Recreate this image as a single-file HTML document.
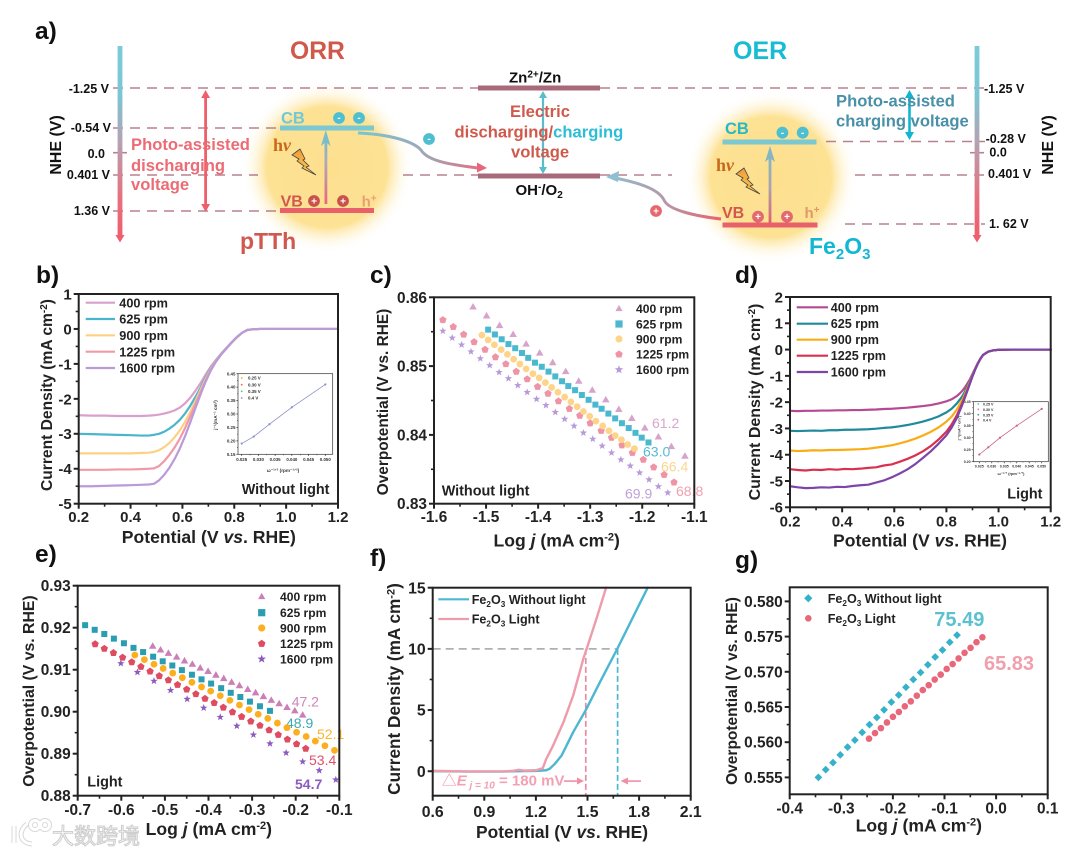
<!DOCTYPE html>
<html lang="en">
<head>
<meta charset="utf-8">
<title>Photo-assisted ORR and OER figure</title>
<style>
html,body{margin:0;padding:0;background:#fff;}
svg{display:block;filter:blur(.3px);}
text{font-family:"Liberation Sans","Noto Sans CJK SC",sans-serif;}
.b{font-weight:bold;}
.sci{font-family:"Liberation Serif",serif;font-weight:bold;}
</style>
</head>
<body>
<svg id="figure" xmlns="http://www.w3.org/2000/svg" width="1080" height="853" viewBox="0 0 1080 853">
<defs>
<linearGradient id="axisGrad" x1="0" y1="0" x2="0" y2="1"><stop offset="0" stop-color="#7bcbd8"/><stop offset=".25" stop-color="#7bc6d4"/><stop offset=".5" stop-color="#b3a3b3"/><stop offset=".8" stop-color="#e86f7e"/><stop offset="1" stop-color="#ee5f6e"/></linearGradient>
<linearGradient id="upGrad" x1="0" y1="1" x2="0" y2="0"><stop offset="0" stop-color="#e8697a"/><stop offset=".6" stop-color="#b0a8b8"/><stop offset="1" stop-color="#70c0d0"/></linearGradient>
<linearGradient id="upGrad2" x1="0" y1="1" x2="0" y2="0"><stop offset="0" stop-color="#e0606e"/><stop offset=".5" stop-color="#a8a4b0"/><stop offset="1" stop-color="#80b8c8"/></linearGradient>
<linearGradient id="curveL" gradientUnits="userSpaceOnUse" x1="358" y1="0" x2="486" y2="0"><stop offset="0" stop-color="#77c6d3"/><stop offset=".5" stop-color="#9da9b8"/><stop offset="1" stop-color="#e86a7c"/></linearGradient>
<linearGradient id="curveR" gradientUnits="userSpaceOnUse" x1="721" y1="0" x2="607" y2="0"><stop offset="0" stop-color="#e9616e"/><stop offset=".5" stop-color="#b39aaa"/><stop offset="1" stop-color="#8fc0cf"/></linearGradient>
<radialGradient id="glow"><stop offset="0" stop-color="#fddf8e"/><stop offset=".7" stop-color="#fde294"/><stop offset="1" stop-color="#fff" stop-opacity="0"/></radialGradient>
<linearGradient id="bolt" x1="0" y1="0" x2="0" y2="1"><stop offset="0" stop-color="#f29a3a"/><stop offset="1" stop-color="#fad04e"/></linearGradient>
</defs>

<g id="energy-diagram">
  <circle cx="327" cy="167" r="86" fill="url(#glow)"/>
  <circle cx="771" cy="177" r="86" fill="url(#glow)"/>

  <g fill="none" stroke="#b9808f" stroke-width="1.6" stroke-dasharray="10 7">
    <line x1="113" y1="88" x2="478" y2="88"/>
    <line x1="600" y1="88" x2="985" y2="88"/>
    <line x1="113" y1="128" x2="280" y2="128"/>
    <line x1="113" y1="175" x2="258" y2="175"/>
    <line x1="403" y1="175" x2="478" y2="175"/>
    <line x1="600" y1="175" x2="672" y2="175"/>
    <line x1="855" y1="175" x2="985" y2="175"/>
    <line x1="113" y1="211" x2="280" y2="211"/>
    <line x1="826" y1="141.5" x2="985" y2="141.5"/>
    <line x1="845" y1="224" x2="985" y2="224"/>
  </g>
  <line x1="113" y1="152.7" x2="127" y2="152.7" stroke="#b9808f" stroke-width="1.6"/>
  <line x1="970" y1="152.7" x2="984" y2="152.7" stroke="#b9808f" stroke-width="1.6"/>

  <rect x="117.6" y="46" width="4.8" height="190" fill="url(#axisGrad)"/>
  <polygon points="115.5,235 124.5,235 120,242.5" fill="#ee5f6e"/>
  <rect x="974.6" y="46" width="4.8" height="190" fill="url(#axisGrad)"/>
  <polygon points="972.5,235 981.5,235 977,242.5" fill="#ee5f6e"/>

  <rect x="478" y="85.5" width="122" height="5" fill="#a8697a"/>
  <rect x="478" y="173.5" width="122" height="5" fill="#a8697a"/>
  <rect x="280" y="125.5" width="94" height="5" fill="#7cc8d0"/>
  <rect x="280" y="208" width="94" height="5" fill="#e8606a"/>
  <rect x="722.5" y="139.5" width="94" height="5" fill="#7cc8d0"/>
  <rect x="722.5" y="222.5" width="95" height="5" fill="#e8606a"/>

  <g fill="#ee5f6b">
    <rect x="204.2" y="96" width="2.8" height="110"/><polygon points="205.6,90 210,98 201.2,98"/><polygon points="205.6,212 210,204 201.2,204"/>
  </g>
  <g fill="#12b5d0">
    <rect x="908.2" y="96" width="2.6" height="38"/><polygon points="909.5,90 914,98 905,98"/><polygon points="909.5,140 914,132 905,132"/>
  </g>
  <g fill="#5bbdcb">
    <rect x="541.9" y="97" width="2.2" height="72"/><polygon points="543,91 547,98 539,98"/><polygon points="543,174 547,167 539,167"/>
  </g>
  <rect x="324.5" y="136" width="2.8" height="68" fill="url(#upGrad)"/>
  <polygon points="325.8,130 330.5,146 325.8,142 321,146" fill="#78bdcb"/>
  <rect x="768.6" y="152" width="2.8" height="71" fill="url(#upGrad2)"/>
  <polygon points="770,146 775,162 770,158 765,162" fill="#85b5c5"/>

  <path d="M358 133 C385 134,412 140,421 150 C428 162,455 165,478 168" fill="none" stroke="url(#curveL)" stroke-width="3"/>
  <polygon points="477,162.5 487,168 477,172.5" fill="#e8657a"/>
  <path d="M721 219 C695 216,668 210,664 200 C658 188,635 182,615 178" fill="none" stroke="url(#curveR)" stroke-width="3"/>
  <polygon points="606,177 619,171 618,182" fill="#8fc0cf"/>

  <g text-anchor="middle" font-size="10" class="b" fill="#fff">
    <circle cx="339" cy="118" r="5.9" fill="#4dbfd0"/><text x="339" y="121">-</text>
    <circle cx="359" cy="118" r="5.9" fill="#4dbfd0"/><text x="359" y="121">-</text>
    <circle cx="429" cy="139" r="5.9" fill="#4dbfd0"/><text x="429" y="142">-</text>
    <circle cx="782.4" cy="132.7" r="5.9" fill="#4dbfd0"/><text x="782.4" y="136">-</text>
    <circle cx="802.7" cy="132.7" r="5.9" fill="#4dbfd0"/><text x="802.7" y="136">-</text>
  </g>
  <g text-anchor="middle" font-size="10" class="b" fill="#fff">
    <circle cx="314" cy="201" r="5.9" fill="#c9534b"/><text x="314" y="204.5">+</text>
    <circle cx="343" cy="201" r="5.9" fill="#c9534b"/><text x="343" y="204.5">+</text>
    <circle cx="758" cy="216.7" r="5.9" fill="#e06a70"/><text x="758" y="220.2">+</text>
    <circle cx="787" cy="216.7" r="5.9" fill="#e06a70"/><text x="787" y="220.2">+</text>
    <circle cx="656" cy="211" r="5.9" fill="#e6676e"/><text x="656" y="214.5">+</text>
  </g>

  <polygon points="292,155 300,149 305,159 303,160 309,166 306,167 316,175 302,168 304,166 297,161 299,159" fill="url(#bolt)" stroke="#444" stroke-width=".8"/>
  <polygon transform="translate(444,19)" points="292,155 300,149 305,159 303,160 309,166 306,167 316,175 302,168 304,166 297,161 299,159" fill="url(#bolt)" stroke="#444" stroke-width=".8"/>

  <text class="sci" x="273" y="151" font-size="18" fill="#c8681c">h<tspan font-style="italic">ν</tspan></text>
  <text class="sci" x="716" y="171" font-size="18" fill="#c8681c">h<tspan font-style="italic">ν</tspan></text>

  <g class="b">
    <text x="35" y="39" font-size="24.5" fill="#111">a)</text>
    <text x="290" y="59" font-size="24.7" fill="#cf5a4c">ORR</text>
    <text x="733" y="59" font-size="25" fill="#17bcd4">OER</text>
    <text x="240" y="249" font-size="23" fill="#d0584f">pTTh</text>
    <text x="809" y="254" font-size="23" fill="#12b7d3">Fe<tspan dy="5" font-size="15">2</tspan><tspan dy="-5">O</tspan><tspan dy="5" font-size="15">3</tspan></text>

    <g font-size="16.6" fill="#ec6b74">
      <text x="131" y="150">Photo-assisted</text><text x="131" y="171">discharging</text><text x="131" y="190">voltage</text>
    </g>
    <g font-size="16.6" fill="#4a90a8">
      <text x="836" y="106.7">Photo-assisted</text><text x="836" y="126.7">charging voltage</text>
    </g>
    <g font-size="16.6" fill="#cf5a4c">
      <text x="510" y="117">Electric</text>
      <text x="454.5" y="137.7">discharging/<tspan fill="#2dbdd6">charging</tspan></text>
      <text x="511" y="157.7">voltage</text>
    </g>
    <text x="509" y="82.3" font-size="15" fill="#111">Zn<tspan dy="-5" font-size="10">2+</tspan><tspan dy="5">/Zn</tspan></text>
    <text x="515.5" y="195" font-size="15" fill="#111">OH<tspan dy="-5" font-size="10">-</tspan><tspan dy="5">/O</tspan><tspan dy="3" font-size="10">2</tspan></text>

    <text x="281" y="123.3" font-size="16.5" fill="#70c8d8">CB</text>
    <text x="280.6" y="206.7" font-size="16" fill="#d1574f">VB</text>
    <text x="361.6" y="206.7" font-size="15" fill="#e9a070">h<tspan dy="-5" font-size="10">+</tspan></text>
    <text x="725" y="134" font-size="16.5" fill="#28b8c8">CB</text>
    <text x="722" y="218" font-size="16" fill="#d1574f">VB</text>
    <text x="804.5" y="218" font-size="15" fill="#e2976a">h<tspan dy="-5" font-size="10">+</tspan></text>

    <g font-size="12.5" fill="#111" text-anchor="end">
      <text x="109" y="93">-1.25 V</text><text x="111" y="132">-0.54 V</text><text x="105" y="158">0.0</text><text x="110" y="179">0.401 V</text><text x="110" y="215">1.36 V</text>
    </g>
    <g font-size="12.5" fill="#111">
      <text x="984" y="93">-1.25 V</text><text x="985.6" y="143">-0.28 V</text><text x="989.4" y="156.7">0.0</text><text x="988" y="178">0.401 V</text><text x="989" y="228">1. 62 V</text>
    </g>
    <text transform="translate(61,145) rotate(-90)" text-anchor="middle" font-size="16" fill="#111">NHE (V)</text>
    <text transform="translate(1053,145) rotate(-90)" text-anchor="middle" font-size="16" fill="#111">NHE (V)</text>
  </g>
</g>

<g id="watermark">
  <g fill="none" stroke="#d8d8d8" stroke-width="5">
    <path d="M14 826 L14 843"/><path d="M27 824 C18 831,19 843,32 844"/><circle cx="35" cy="825" r="4.5"/><circle cx="45" cy="825" r="4.5"/>
  </g>
  <g fill="none" stroke="#fff" stroke-width="3">
    <path d="M14 826 L14 843"/><path d="M27 824 C18 831,19 843,32 844"/><circle cx="35" cy="825" r="4.5"/><circle cx="45" cy="825" r="4.5"/>
  </g>
  <text x="52" y="844" font-size="22" fill="#fff" stroke="#cfcfcf" stroke-width="1.1" style="font-family:'Noto Sans CJK SC',sans-serif">大数跨境</text>
</g>

<g id="panel-b">
  <text class="b" x="36" y="283" font-size="24.5" fill="#111">b)</text>
  <text class="b" transform="translate(52,395) rotate(-90)" text-anchor="middle" font-size="15.6" fill="#222">Current Density (mA cm<tspan dy="-5" font-size="10">-2</tspan><tspan dy="5">)</tspan></text>
  <text class="b" x="208.8" y="543" text-anchor="middle" font-size="17.6" fill="#222">Potential (V <tspan font-style="italic">vs</tspan>. RHE)</text>
  <text class="b" x="241.7" y="494" font-size="14.4" fill="#222">Without light</text>
</g>
<g id="panel-c">
  <text class="b" x="370" y="283" font-size="24.5" fill="#111">c)</text>
  <text class="b" transform="translate(388,402) rotate(-90)" text-anchor="middle" font-size="15.4" fill="#222">Overpotential (V vs. RHE)</text>
  <text class="b" x="556.7" y="546.7" text-anchor="middle" font-size="17.6" fill="#222">Log <tspan font-style="italic">j</tspan> (mA cm<tspan dy="-6" font-size="11">-2</tspan><tspan dy="6">)</tspan></text>
  <text class="b" x="441.7" y="495.7" font-size="14.4" fill="#222">Without light</text>
  <g font-size="14">
    <text x="652" y="428" fill="#d9a6cc">61.2</text>
    <text x="643" y="456.7" fill="#55bcd0">63.0</text>
    <text x="661" y="471.7" fill="#fbd58f">66.4</text>
    <text x="676" y="496" fill="#f2a0b0">68.8</text>
    <text x="625" y="498.7" fill="#bfa0db">69.9</text>
  </g>
</g>
<g id="panel-d">
  <text class="b" x="735" y="283" font-size="24.5" fill="#111">d)</text>
  <text class="b" transform="translate(760,402) rotate(-90)" text-anchor="middle" font-size="16" fill="#222">Current Density (mA cm<tspan dy="-5" font-size="10">-2</tspan><tspan dy="5">)</tspan></text>
  <text class="b" x="920" y="546.7" text-anchor="middle" font-size="17.6" fill="#222">Potential (V <tspan font-style="italic">vs</tspan>. RHE)</text>
  <text class="b" x="1007.3" y="498.3" font-size="14.4" fill="#222">Light</text>
</g>
<g id="panel-e">
  <text class="b" x="35" y="562" font-size="24.5" fill="#111">e)</text>
  <text class="b" transform="translate(34,691) rotate(-90)" text-anchor="middle" font-size="15.8" fill="#222">Overpotential (V vs. RHE)</text>
  <text class="b" x="208.8" y="835" text-anchor="middle" font-size="17.6" fill="#222">Log <tspan font-style="italic">j</tspan> (mA cm<tspan dy="-6" font-size="11">-2</tspan><tspan dy="6">)</tspan></text>
  <text class="b" x="87.3" y="786.7" font-size="14.4" fill="#222">Light</text>
  <g font-size="14">
    <text x="291.7" y="706.7" fill="#cf85ba">47.2</text>
    <text x="286" y="728" fill="#3aa8b8">48.9</text>
    <text x="317" y="739" fill="#f9b62e">52.1</text>
    <text x="309" y="765" fill="#e0506a">53.4</text>
    <text class="b" x="295" y="789" fill="#8a5cc0">54.7</text>
  </g>
</g>
<g id="panel-f">
  <text class="b" x="370" y="566" font-size="24.5" fill="#111">f)</text>
  <text class="b" transform="translate(400,689) rotate(-90)" text-anchor="middle" font-size="17.2" fill="#222">Current Density (mA cm<tspan dy="-5.5" font-size="11">-2</tspan><tspan dy="5.5">)</tspan></text>
  <text class="b" x="562" y="838" text-anchor="middle" font-size="17.4" fill="#222">Potential (V <tspan font-style="italic">vs</tspan>. RHE)</text>
  <text class="b" x="441.7" y="785.7" font-size="15" fill="#f3a0b4">△<tspan font-style="italic">E</tspan><tspan dy="3" font-size="10" font-style="italic"> j = 10</tspan><tspan dy="-3"> = 180 mV</tspan></text>
  <g fill="#f08fa6">
    <rect x="564" y="780.3" width="14" height="1.6"/><polygon points="584,781 577,777.5 577,784.5"/>
  </g>
  <g fill="#f08fa6">
    <rect x="627" y="780.3" width="14" height="1.6"/><polygon points="620.5,781 628,777.5 628,784.5"/>
  </g>
</g>
<g id="panel-g">
  <text class="b" x="735" y="568" font-size="24.5" fill="#111">g)</text>
  <text class="b" transform="translate(737,691) rotate(-90)" text-anchor="middle" font-size="15.5" fill="#222">Overpotential (V vs. RHE)</text>
  <text class="b" x="918.8" y="831.7" text-anchor="middle" font-size="17.6" fill="#222">Log <tspan font-style="italic">j</tspan> (mA cm<tspan dy="-6" font-size="11">-2</tspan><tspan dy="6">)</tspan></text>
  <text class="b" x="934.3" y="626" font-size="20" fill="#5bc0d0">75.49</text>
  <text class="b" x="984" y="670" font-size="20" fill="#f0a0ad">65.83</text>
</g>
</svg>

<script>
/* Panel b: ORR LSV without light */
const bXTicks=[0.2,0.4,0.6,0.8,1.0,1.2];
const bXLabels=['0.2','0.4','0.6','0.8','1.0','1.2'];
const bYTicks=[1,0,-1,-2,-3,-4,-5];
const bYLabels=['1','0','-1','-2','-3','-4','-5'];
const bPotential=[.2,.25,.3,.35,.4,.44,.47,.49,.51,.53,.55,.57,.59,.61,.63,.65,.67,.69,.71,.73,.75,.77,.79,.81,.83,.85,.87,.9,.95,1,1.1,1.2];
const b400=[-2.47,-2.48,-2.48,-2.49,-2.49,-2.49,-2.48,-2.47,-2.45,-2.42,-2.38,-2.33,-2.25,-2.13,-1.97,-1.77,-1.55,-1.3,-1.07,-.88,-.7,-.54,-.38,-.23,-.11,-.03,-.01,0,0,0,0,0];
const b625=[-3,-3.01,-3.02,-3.03,-3.04,-3.05,-3.05,-3.03,-3,-2.94,-2.85,-2.74,-2.6,-2.42,-2.2,-1.95,-1.68,-1.38,-1.12,-.9,-.71,-.54,-.38,-.23,-.11,-.03,-.01,0,0,0,0,0];
const b900=[-3.56,-3.56,-3.56,-3.56,-3.56,-3.55,-3.54,-3.52,-3.47,-3.38,-3.26,-3.1,-2.9,-2.66,-2.38,-2.06,-1.74,-1.42,-1.14,-.91,-.72,-.55,-.39,-.24,-.11,-.03,-.01,0,0,0,0,0];
const b1225=[-4.03,-4.03,-4.03,-4.02,-4.02,-4.01,-4,-3.99,-3.92,-3.78,-3.6,-3.39,-3.14,-2.84,-2.5,-2.15,-1.8,-1.46,-1.16,-.92,-.72,-.55,-.39,-.24,-.11,-.03,-.01,0,0,0,0,0];
const b1600=[-4.5,-4.5,-4.49,-4.48,-4.47,-4.46,-4.45,-4.43,-4.33,-4.17,-3.97,-3.72,-3.42,-3.07,-2.68,-2.27,-1.87,-1.5,-1.18,-.93,-.73,-.56,-.39,-.24,-.11,-.03,-.01,0,0,0,0,0];
const rpmLabels=['400 rpm','625 rpm','900 rpm','1225 rpm','1600 rpm'];

/* Koutecky-Levich insets */
const insetOmega=[0.025,0.0286,0.0333,0.04,0.05];
const insetBValues=[0.19,0.216,0.262,0.325,0.41];
const insetDValues=[0.23,0.26,0.30,0.35,0.42];
const insetXTicks=[0.025,0.03,0.035,0.04,0.045,0.05];
const insetXLabels=['0.025','0.030','0.035','0.040','0.045','0.050'];
const insetBYTicks=[0.15,0.2,0.25,0.3,0.35,0.4,0.45];
const insetBYLabels=['0.15','0.20','0.25','0.30','0.35','0.40','0.45'];
const insetDYTicks=[0.2,0.25,0.3,0.35,0.4,0.45];
const insetDYLabels=['0.20','0.25','0.30','0.35','0.40','0.45'];
const insetLegendLabels=['0.25 V','0.30 V','0.35 V','0.4 V'];

/* Panel c: Tafel without light */
const cXTicks=[-1.6,-1.5,-1.4,-1.3,-1.2,-1.1];
const cXLabels=['-1.6','-1.5','-1.4','-1.3','-1.2','-1.1'];
const cYTicks=[0.83,0.84,0.85,0.86];
const cYLabels=['0.83','0.84','0.85','0.86'];
const c400X=[-1.525,-1.499,-1.474,-1.448,-1.423,-1.397,-1.372,-1.347,-1.322,-1.296,-1.27,-1.245,-1.22,-1.195,-1.169,-1.144,-1.118];
const c400Y=[.8586,.8573,.8559,.8546,.8532,.8519,.8505,.8492,.8478,.8465,.8451,.8437,.8424,.841,.8397,.8383,.8369];
const c625X=[-1.496,-1.483,-1.47,-1.457,-1.444,-1.431,-1.419,-1.406,-1.393,-1.38,-1.367,-1.354,-1.342,-1.329,-1.316,-1.303,-1.29,-1.278,-1.265,-1.252,-1.239,-1.226,-1.213,-1.201,-1.188];
const c625Y=[.8553,.8546,.8539,.8532,.8526,.8519,.8512,.8505,.8499,.8492,.8485,.8478,.8471,.8465,.8458,.8451,.8444,.8438,.8431,.8424,.8417,.841,.8403,.8396,.8389];
const c900X=[-1.508,-1.496,-1.484,-1.471,-1.459,-1.447,-1.435,-1.423,-1.41,-1.398,-1.386,-1.374,-1.362,-1.349,-1.337,-1.325,-1.313,-1.301,-1.289,-1.276,-1.264,-1.252,-1.24,-1.228,-1.215];
const c900Y=[.8545,.8538,.8531,.8524,.8517,.851,.8503,.8496,.8489,.8483,.8476,.8469,.8462,.8455,.8448,.8441,.8434,.8427,.842,.8413,.8406,.8399,.8393,.8386,.838];
const c1225X=[-1.583,-1.563,-1.543,-1.523,-1.502,-1.482,-1.462,-1.442,-1.421,-1.401,-1.381,-1.361,-1.34,-1.32,-1.3,-1.279,-1.259,-1.239,-1.219,-1.198,-1.178,-1.158,-1.139];
const c1225Y=[.8567,.8557,.8546,.8535,.8524,.8513,.8503,.8492,.8481,.847,.846,.8449,.8438,.8428,.8417,.8406,.8396,.8385,.8374,.8364,.8353,.8342,.8331];
const c1600X=[-1.583,-1.565,-1.547,-1.529,-1.511,-1.493,-1.475,-1.457,-1.439,-1.421,-1.403,-1.385,-1.367,-1.349,-1.331,-1.313,-1.295,-1.277,-1.259,-1.241,-1.223,-1.205,-1.187,-1.169,-1.151];
const c1600Y=[.8551,.8541,.8531,.8521,.8511,.8501,.8491,.8482,.8472,.8462,.8452,.8443,.8433,.8423,.8413,.8403,.8394,.8384,.8374,.8364,.8355,.8345,.8335,.8325,.8316];

/* Panel d: ORR LSV with light */
const dXTicks=[0.2,0.4,0.6,0.8,1.0,1.2];
const dXLabels=['0.2','0.4','0.6','0.8','1.0','1.2'];
const dYTicks=[2,1,0,-1,-2,-3,-4,-5,-6];
const dYLabels=['2','1','0','-1','-2','-3','-4','-5','-6'];
const dPotential=[.2,.23,.26,.29,.32,.35,.38,.41,.44,.47,.5,.53,.56,.59,.62,.65,.68,.71,.74,.77,.8,.82,.84,.85,.86,.87,.88,.89,.9,.91,.92,.93,.94,.96,.98,1,1.05,1.1,1.2];
const d400=[-2.33,-2.34,-2.33,-2.33,-2.32,-2.32,-2.31,-2.31,-2.3,-2.3,-2.29,-2.28,-2.26,-2.25,-2.23,-2.21,-2.18,-2.15,-2.11,-2.05,-1.97,-1.89,-1.77,-1.68,-1.58,-1.45,-1.3,-1.13,-.93,-.72,-.52,-.35,-.21,-.08,-.03,-.01,0,0,0];
const d625=[-3.09,-3.1,-3.09,-3.08,-3.09,-3.07,-3.07,-3.05,-3.05,-3.04,-3.03,-3.01,-2.98,-2.96,-2.92,-2.87,-2.81,-2.74,-2.65,-2.54,-2.39,-2.25,-2.05,-1.92,-1.79,-1.62,-1.42,-1.2,-.97,-.74,-.53,-.35,-.21,-.08,-.03,-.01,0,0,0];
const d900=[-3.84,-3.86,-3.85,-3.83,-3.84,-3.82,-3.82,-3.81,-3.8,-3.79,-3.77,-3.73,-3.69,-3.64,-3.57,-3.49,-3.39,-3.27,-3.13,-2.96,-2.74,-2.55,-2.28,-2.1,-1.93,-1.72,-1.48,-1.24,-.99,-.75,-.54,-.36,-.21,-.08,-.03,-.01,0,0,0];
const d1225=[-4.55,-4.58,-4.6,-4.57,-4.58,-4.55,-4.57,-4.54,-4.55,-4.53,-4.5,-4.48,-4.41,-4.37,-4.27,-4.16,-4.03,-3.87,-3.67,-3.42,-3.12,-2.85,-2.5,-2.28,-2.05,-1.8,-1.54,-1.28,-1.01,-.76,-.54,-.36,-.21,-.08,-.03,-.01,0,0,0];
const d1600=[-5.2,-5.24,-5.27,-5.26,-5.24,-5.25,-5.22,-5.23,-5.19,-5.16,-5.14,-5.06,-4.98,-4.86,-4.72,-4.56,-4.36,-4.12,-3.87,-3.58,-3.26,-2.97,-2.6,-2.36,-2.12,-1.85,-1.58,-1.3,-1.02,-.77,-.55,-.36,-.21,-.08,-.03,-.01,0,0,0];

/* Panel e: Tafel with light */
const eXTicks=[-0.7,-0.6,-0.5,-0.4,-0.3,-0.2,-0.1];
const eXLabels=['-0.7','-0.6','-0.5','-0.4','-0.3','-0.2','-0.1'];
const eYTicks=[0.88,0.89,0.9,0.91,0.92,0.93];
const eYLabels=['0.88','0.89','0.90','0.91','0.92','0.93'];
const e400X=[-.528,-.51,-.492,-.473,-.455,-.437,-.419,-.401,-.383,-.365,-.347,-.329,-.31,-.292,-.274,-.256,-.238,-.22,-.202,-.184];
const e400Y=[.9156,.9147,.9139,.913,.9121,.9113,.9104,.9096,.9087,.9079,.907,.9062,.9053,.9045,.9036,.9027,.9019,.901,.9002,.8992];
const e625X=[-.683,-.661,-.639,-.617,-.594,-.572,-.55,-.527,-.505,-.483,-.461,-.438,-.416,-.394,-.371,-.349,-.327,-.305,-.282,-.259];
const e625Y=[.9206,.9195,.9185,.9174,.9163,.9152,.9142,.9131,.912,.911,.9099,.9088,.9077,.9067,.9056,.9045,.9035,.9024,.9013,.9002];
const e900X=[-.569,-.547,-.525,-.504,-.482,-.46,-.438,-.416,-.395,-.373,-.351,-.329,-.307,-.286,-.264,-.242,-.22,-.198,-.176,-.155,-.133,-.111];
const e900Y=[.9135,.9124,.9113,.9103,.9092,.9081,.907,.9059,.9049,.9038,.9027,.9016,.9005,.8994,.8984,.8973,.8962,.8951,.8941,.893,.8919,.8908];
const e1225X=[-.66,-.639,-.618,-.597,-.576,-.555,-.534,-.513,-.492,-.471,-.45,-.429,-.408,-.387,-.366,-.345,-.324,-.303,-.282,-.261,-.24,-.219,-.198,-.177];
const e1225Y=[.9161,.915,.914,.9129,.9118,.9107,.9096,.9085,.9075,.9064,.9053,.9042,.9031,.9021,.901,.8999,.8988,.8977,.8967,.8956,.8945,.8934,.8923,.8912];
const e1600X=[-.601,-.563,-.525,-.487,-.449,-.411,-.373,-.335,-.297,-.259,-.222,-.184,-.146,-.108];
const e1600Y=[.9115,.9094,.9073,.9051,.903,.9009,.8987,.8966,.8945,.8924,.8902,.8881,.886,.8838];

/* Panel f: OER LSV */
const fXTicks=[0.6,0.9,1.2,1.5,1.8,2.1];
const fXLabels=['0.6','0.9','1.2','1.5','1.8','2.1'];
const fYTicks=[0,5,10,15];
const fYLabels=['0','5','10','15'];
const fDarkX=[.6,.8,1,1.1,1.2,1.26,1.28,1.31,1.35,1.417,1.49,1.573,1.673,1.786,1.85];
const fDarkY=[0,-.03,-.03,0,.02,.08,.2,.6,1.3,3.2,5,7.3,10,13.2,15];
const fLightX=[.6,.8,1,1.07,1.1,1.13,1.2,1.24,1.26,1.3,1.36,1.417,1.476,1.495,1.553,1.608];
const fLightY=[.03,-.02,-.02,.03,.12,.05,.08,.25,1,2.1,4,6.2,9.2,10,12.5,15];
const fTargetCurrent=[10];
const fOnsetLight=[1.49];
const fOnsetDark=[1.675];

/* Panel g: OER Tafel */
const gXTicks=[-0.4,-0.3,-0.2,-0.1,0,0.1];
const gXLabels=['-0.4','-0.3','-0.2','-0.1','0.0','0.1'];
const gYTicks=[0.555,0.56,0.565,0.57,0.575,0.58];
const gYLabels=['0.555','0.560','0.565','0.570','0.575','0.580'];
const gDarkX=[-.3444,-.3302,-.3161,-.302,-.2878,-.2737,-.2595,-.2454,-.2312,-.2171,-.203,-.1888,-.1747,-.1605,-.1464,-.1322,-.1181,-.1039,-.0898,-.0757];
const gDarkY=[.555,.5561,.5571,.5582,.5593,.5603,.5614,.5625,.5635,.5646,.5657,.5667,.5678,.5689,.5699,.571,.5721,.5731,.5742,.5752];
const gLightX=[-.2463,-.2347,-.2232,-.2116,-.2,-.1884,-.1769,-.1653,-.1537,-.1421,-.1306,-.119,-.1074,-.0958,-.0843,-.0727,-.0611,-.0495,-.038,-.0266];
const gLightY=[.5605,.5613,.562,.5628,.5636,.5643,.5651,.5658,.5666,.5674,.5681,.5689,.5696,.5704,.5711,.5719,.5727,.5734,.5742,.5749];

const NS='http://www.w3.org/2000/svg';
function mk(tag,parent,attrs){
  const n=document.createElementNS(NS,tag);
  for(const k in attrs){n.setAttribute(k,attrs[k]);}
  parent.appendChild(n);
  return n;
}
function scale(d0,d1,r0,r1){return v=>r0+(v-d0)/(d1-d0)*(r1-r0);}

function drawAxes(root,sx,sy,box,xTicks,xLabels,yTicks,yLabels,opt){
  const g=mk('g',root,{});
  
  
  const frame=mk('rect',g,{x:box.l,y:box.t,width:box.r-box.l,height:box.b-box.t,fill:'none',stroke:opt.color||'#222','stroke-width':opt.sw});
  
  
  xTicks.forEach((t,i)=>{
    const tick=mk('line',g,{x1:sx(t),x2:sx(t),y1:box.b,y2:box.b+opt.major,stroke:opt.color||'#222','stroke-width':opt.sw});
    
    
    const label=mk('text',g,{x:sx(t),y:box.b+opt.xDy,'text-anchor':'middle','font-size':opt.font,'font-weight':'bold',fill:opt.color||'#222'});
    label.textContent=xLabels[i];
    
    
    if(i<xTicks.length-1){
      const minor=mk('line',g,{x1:sx((t+xTicks[i+1])/2),x2:sx((t+xTicks[i+1])/2),y1:box.b,y2:box.b+opt.major*.6,stroke:opt.color||'#222','stroke-width':opt.sw*.8});
      
      
    }
  });
  yTicks.forEach((t,i)=>{
    const tick=mk('line',g,{x1:box.l-opt.major,x2:box.l,y1:sy(t),y2:sy(t),stroke:opt.color||'#222','stroke-width':opt.sw});
    
    
    const label=mk('text',g,{x:box.l-opt.yDx,y:sy(t)+opt.font*.36,'text-anchor':'end','font-size':opt.font,'font-weight':'bold',fill:opt.color||'#222'});
    label.textContent=yLabels[i];
    
    
    if(i<yTicks.length-1){
      const m=(t+yTicks[i+1])/2;
      const minor=mk('line',g,{x1:box.l-opt.major*.6,x2:box.l,y1:sy(m),y2:sy(m),stroke:opt.color||'#222','stroke-width':opt.sw*.8});
      
      
    }
  });
}

function drawLine(root,sx,sy,xs,ys,color,width){
  const pts=xs.map((x,i)=>sx(x).toFixed(2)+','+sy(ys[i]).toFixed(2)).join(' ');
  const line=mk('polyline',root,{points:pts,fill:'none',stroke:color,'stroke-width':width,'stroke-linejoin':'round','stroke-linecap':'round'});
  
  
  return line;
}

function ngon(n,cx,cy,r,rot){
  const out=[];
  for(let i=0;i<n;i++){
    const a=rot+i*2*Math.PI/n;
    out.push((cx+r*Math.cos(a)).toFixed(2)+','+(cy+r*Math.sin(a)).toFixed(2));
  }
  return out.join(' ');
}
function starPts(cx,cy,r){
  const out=[];
  for(let i=0;i<10;i++){
    const a=-Math.PI/2+i*Math.PI/5;
    const q=i%2?r*.42:r;
    out.push((cx+q*Math.cos(a)).toFixed(2)+','+(cy+q*Math.sin(a)).toFixed(2));
  }
  return out.join(' ');
}
function drawMarker(root,shape,cx,cy,size,color){
  let m;
  if(shape==='circle'){m=mk('circle',root,{cx:cx,cy:cy,r:size,fill:color});}
  else if(shape==='square'){m=mk('rect',root,{x:cx-size,y:cy-size,width:size*2,height:size*2,fill:color});}
  else if(shape==='triangle'){m=mk('polygon',root,{points:ngon(3,cx,cy+size*.1,size*1.15,-Math.PI/2),fill:color});}
  else if(shape==='pentagon'){m=mk('polygon',root,{points:ngon(5,cx,cy,size*1.1,-Math.PI/2),fill:color});}
  else if(shape==='diamond'){m=mk('polygon',root,{points:ngon(4,cx,cy,size*1.25,0),fill:color});}
  else{m=mk('polygon',root,{points:starPts(cx,cy,size*1.25),fill:color});}
  return m;
}
function drawScatter(root,sx,sy,xs,ys,shape,size,color){
  const g=mk('g',root,{});
  
  
  xs.forEach((x,i)=>{
    const m=drawMarker(g,shape,sx(x),sy(ys[i]),size,color);
    
    
  });
}
function legendText(root,x,y,label,size){
  const t=mk('text',root,{x:x,y:y+size*.36,'font-size':size,'font-weight':'bold',fill:'#222'});
  t.textContent=label;
  
  
  return t;
}
function lineLegend(root,x1,x2,tx,rows,colors,labels,size){
  labels.forEach((label,i)=>{
    const l=mk('line',root,{x1:x1,x2:x2,y1:rows[i],y2:rows[i],stroke:colors[i],'stroke-width':2.2});
    
    
    legendText(root,tx,rows[i],label,size);
  });
}
function markerLegend(root,mx,tx,rows,shapes,colors,labels,msize,size){
  labels.forEach((label,i)=>{
    const m=drawMarker(root,shapes[i],mx,rows[i],msize,colors[i]);
    
    
    legendText(root,tx,rows[i],label,size);
  });
}
function formulaLegendLabel(root,x,y,rest,size){
  const t=mk('text',root,{x:x,y:y+size*.36,'font-size':size,'font-weight':'bold',fill:'#222'});
  
  
  t.appendChild(document.createTextNode('Fe'));
  const s1=mk('tspan',t,{dy:3,'font-size':size*.65});s1.textContent='2';
  const o=mk('tspan',t,{dy:-3});o.textContent='O';
  const s2=mk('tspan',t,{dy:3,'font-size':size*.65});s2.textContent='3';
  const r=mk('tspan',t,{dy:-3});r.textContent=' '+rest;
}

function drawInset(root,box,omega,values,yTicks,yLabels,yMin,yMax,legendColors,lineColor,font,xTitle,yTitle,rows,mx,tx){
  const g=mk('g',root,{});
  
  
  const x0=box.x025,x1=box.x050;
  const sx=scale(0.025,0.05,x0,x1);
  const sy=scale(yMin,yMax,box.b,box.t);
  mk('rect',g,{x:box.l,y:box.t,width:box.r-box.l,height:box.b-box.t,fill:'#fff'});
  drawAxes(g,sx,sy,box,insetXTicks,insetXLabels,yTicks,yLabels,{sw:.7,major:1.6,font:font,xDy:font+2.2,yDx:2.6,color:'#333'});
  drawLine(g,sx,sy,omega,values,lineColor,.8);
  omega.forEach((x,i)=>{
    const p=mk('circle',g,{cx:sx(x),cy:sy(values[i]),r:1.1,fill:lineColor});
    
    
  });
  insetLegendLabels.forEach((label,i)=>{
    const m=mk('circle',g,{cx:mx,cy:rows[i],r:.9,fill:legendColors[i]});
    
    
    const t=mk('text',g,{x:tx,y:rows[i]+1.6,'font-size':font,'font-weight':'bold',fill:'#333'});
    t.textContent=label;
    
    
  });
  const xt=mk('text',g,{x:xTitle[0],y:xTitle[1],'text-anchor':'middle','font-size':font+.3,'font-weight':'bold',fill:'#333'});
  xt.textContent='ω⁻¹ᐟ² (rpm⁻¹ᐟ²)';
  
  
  const yt=mk('text',g,{transform:'translate('+yTitle[0]+','+yTitle[1]+') rotate(-90)','text-anchor':'middle','font-size':font+.3,'font-weight':'bold',fill:'#333'});
  yt.textContent='j⁻¹(mA⁻¹ cm²)';
  
  
}

const frameStroke=2;

/* ---------- panel b ---------- */
(function(){
  const root=document.getElementById('panel-b');
  const box={l:78.7,r:338,t:294,b:503.7};
  const sx=scale(.2,1.2,box.l,box.r),sy=scale(-5,1,box.b,box.t);
  const colors=['#d9a0cc','#4ab5cc','#fdd184','#f09aa8','#bb9ad9'];
  [b400,b625,b900,b1225,b1600].forEach((s,i)=>drawLine(root,sx,sy,bPotential,s,colors[i],2.2));
  drawAxes(root,sx,sy,box,bXTicks,bXLabels,bYTicks,bYLabels,{sw:frameStroke,major:5,font:15,xDy:18.2,yDx:7});
  lineLegend(root,85.7,115,119.3,[302.7,319,335.3,351.7,368],colors,rpmLabels,12.7);
  drawInset(root,{l:238,r:332.7,t:373.7,b:454.3,x025:241.7,x050:325.3},insetOmega,insetBValues,insetBYTicks,insetBYLabels,.15,.45,['#f6a623','#ee6a4a','#5ec46a','#8f8fd0'],'#8d8fc9',4.4,[283,472],[217,415],[378,384.7,391.3,398],241.7,248);
})();

/* ---------- panel c ---------- */
(function(){
  const root=document.getElementById('panel-c');
  const box={l:434,r:694.3,t:297.3,b:503.7};
  const sx=scale(-1.6,-1.1,box.l,box.r),sy=scale(.83,.86,box.b,box.t);
  const colors=['#d8a3cb','#4ab8cf','#fdd48a','#ef93a6','#b89adb'];
  const shapes=['triangle','square','circle','pentagon','star'];
  const sizes=[3.8,3,3.4,3.5,3.1];
  drawScatter(root,sx,sy,c400X,c400Y,shapes[0],sizes[0],colors[0]);
  drawScatter(root,sx,sy,c1600X,c1600Y,shapes[4],sizes[4],colors[4]);
  drawScatter(root,sx,sy,c1225X,c1225Y,shapes[3],sizes[3],colors[3]);
  drawScatter(root,sx,sy,c900X,c900Y,shapes[2],sizes[2],colors[2]);
  drawScatter(root,sx,sy,c625X,c625Y,shapes[1],sizes[1],colors[1]);
  drawAxes(root,sx,sy,box,cXTicks,cXLabels,cYTicks,cYLabels,{sw:frameStroke,major:5,font:15.4,xDy:18.2,yDx:7});
  markerLegend(root,619,636,[308.7,324,339,354.3,369.7],shapes,colors,rpmLabels,3.6,12.1);
})();

/* ---------- panel d ---------- */
(function(){
  const root=document.getElementById('panel-d');
  const box={l:790,r:1050.7,t:297,b:507.3};
  const sx=scale(.2,1.2,box.l,box.r),sy=scale(-6,2,box.b,box.t);
  const colors=['#b64a92','#1f8a99','#f9ad15','#d9304f','#7d45a8'];
  [d400,d625,d900,d1225,d1600].forEach((s,i)=>drawLine(root,sx,sy,dPotential,s,colors[i],2.2));
  drawAxes(root,sx,sy,box,dXTicks,dXLabels,dYTicks,dYLabels,{sw:frameStroke,major:5,font:15,xDy:19.2,yDx:7});
  lineLegend(root,796.7,828,830.7,[307.3,323.7,339.7,355.7,372],colors,rpmLabels,12.6);
  drawInset(root,{l:973.3,r:1048.3,t:401.7,b:461.7,x025:979.3,x050:1041.7},insetOmega,insetDValues,insetDYTicks,insetDYLabels,.2,.45,['#58b8d0','#e8809a','#3a9aaa','#d85060'],'#c9647f',3.6,[1011,475],[960.7,428],[404,409.3,414.7,419.7],978.3,983);
})();

/* ---------- panel e ---------- */
(function(){
  const root=document.getElementById('panel-e');
  const box={l:77.7,r:339.3,t:585.7,b:795.7};
  const sx=scale(-.7,-.1,box.l,box.r),sy=scale(.88,.93,box.b,box.t);
  const colors=['#cb7fb7','#2a9db2','#fcae1e','#df4b60','#8c5bbf'];
  const shapes=['triangle','square','circle','pentagon','star'];
  const sizes=[3.8,3,3.4,3.5,3.1];
  drawScatter(root,sx,sy,e400X,e400Y,shapes[0],sizes[0],colors[0]);
  drawScatter(root,sx,sy,e625X,e625Y,shapes[1],sizes[1],colors[1]);
  drawScatter(root,sx,sy,e900X,e900Y,shapes[2],sizes[2],colors[2]);
  drawScatter(root,sx,sy,e1225X,e1225Y,shapes[3],sizes[3],colors[3]);
  drawScatter(root,sx,sy,e1600X,e1600Y,shapes[4],sizes[4],colors[4]);
  drawAxes(root,sx,sy,box,eXTicks,eXLabels,eYTicks,eYLabels,{sw:frameStroke,major:5,font:15.4,xDy:19.3,yDx:7});
  markerLegend(root,261.7,280,[596.7,612.7,628,643.7,659],shapes,colors,rpmLabels,3.6,12.1);
})();

/* ---------- panel f ---------- */
(function(){
  const root=document.getElementById('panel-f');
  const box={l:432.7,r:690.7,t:587.7,b:795.7};
  const sx=scale(.6,2.1,box.l,box.r),sy=scale(-2,15,box.b,box.t);
  const refH=mk('line',root,{x1:box.l,x2:sx(fOnsetDark[0]),y1:sy(fTargetCurrent[0]),y2:sy(fTargetCurrent[0]),stroke:'#b0b0b0','stroke-width':1.7,'stroke-dasharray':'8 5'});
  
  
  const refL=mk('line',root,{x1:sx(fOnsetLight[0]),x2:sx(fOnsetLight[0]),y1:sy(fTargetCurrent[0]),y2:box.b,stroke:'#e98aa4','stroke-width':1.7,'stroke-dasharray':'6 3'});
  
  
  const refD=mk('line',root,{x1:sx(fOnsetDark[0]),x2:sx(fOnsetDark[0]),y1:sy(fTargetCurrent[0]),y2:box.b,stroke:'#4db7d1','stroke-width':1.7,'stroke-dasharray':'6 3'});
  
  
  drawLine(root,sx,sy,fDarkX,fDarkY,'#4db7d1',2.4);
  drawLine(root,sx,sy,fLightX,fLightY,'#ee9bac',2.4);
  drawAxes(root,sx,sy,box,fXTicks,fXLabels,fYTicks,fYLabels,{sw:frameStroke,major:5,font:15.8,xDy:21.4,yDx:7});
  ['Without light','Light'].forEach((label,i)=>{
    const rows=[599.3,619];
    const colors=['#4db7d1','#ee9bac'];
    const l=mk('line',root,{x1:438.3,x2:469,y1:rows[i],y2:rows[i],stroke:colors[i],'stroke-width':2.2});
    
    
    formulaLegendLabel(root,471.7,rows[i],label,12.6);
  });
})();

/* ---------- panel g ---------- */
(function(){
  const root=document.getElementById('panel-g');
  const box={l:789.7,r:1047.7,t:587.3,b:794.3};
  const sx=scale(-.4,.1,box.l,box.r),sy=scale(.5526,.582,box.b,box.t);
  drawScatter(root,sx,sy,gDarkX,gDarkY,'diamond',3.1,'#35b2c9');
  drawScatter(root,sx,sy,gLightX,gLightY,'circle',3.3,'#e8677a');
  drawAxes(root,sx,sy,box,gXTicks,gXLabels,gYTicks,gYLabels,{sw:frameStroke,major:5,font:15.4,xDy:19,yDx:7});
  ['Without light','Light'].forEach((label,i)=>{
    const rows=[598.3,618.3];
    const shapes=['diamond','circle'];
    const colors=['#35b2c9','#e8677a'];
    const m=drawMarker(root,shapes[i],808.3,rows[i],3.3,colors[i]);
    
    
    formulaLegendLabel(root,827.7,rows[i],label,12.6);
  });
})();
</script>
</body>
</html>
